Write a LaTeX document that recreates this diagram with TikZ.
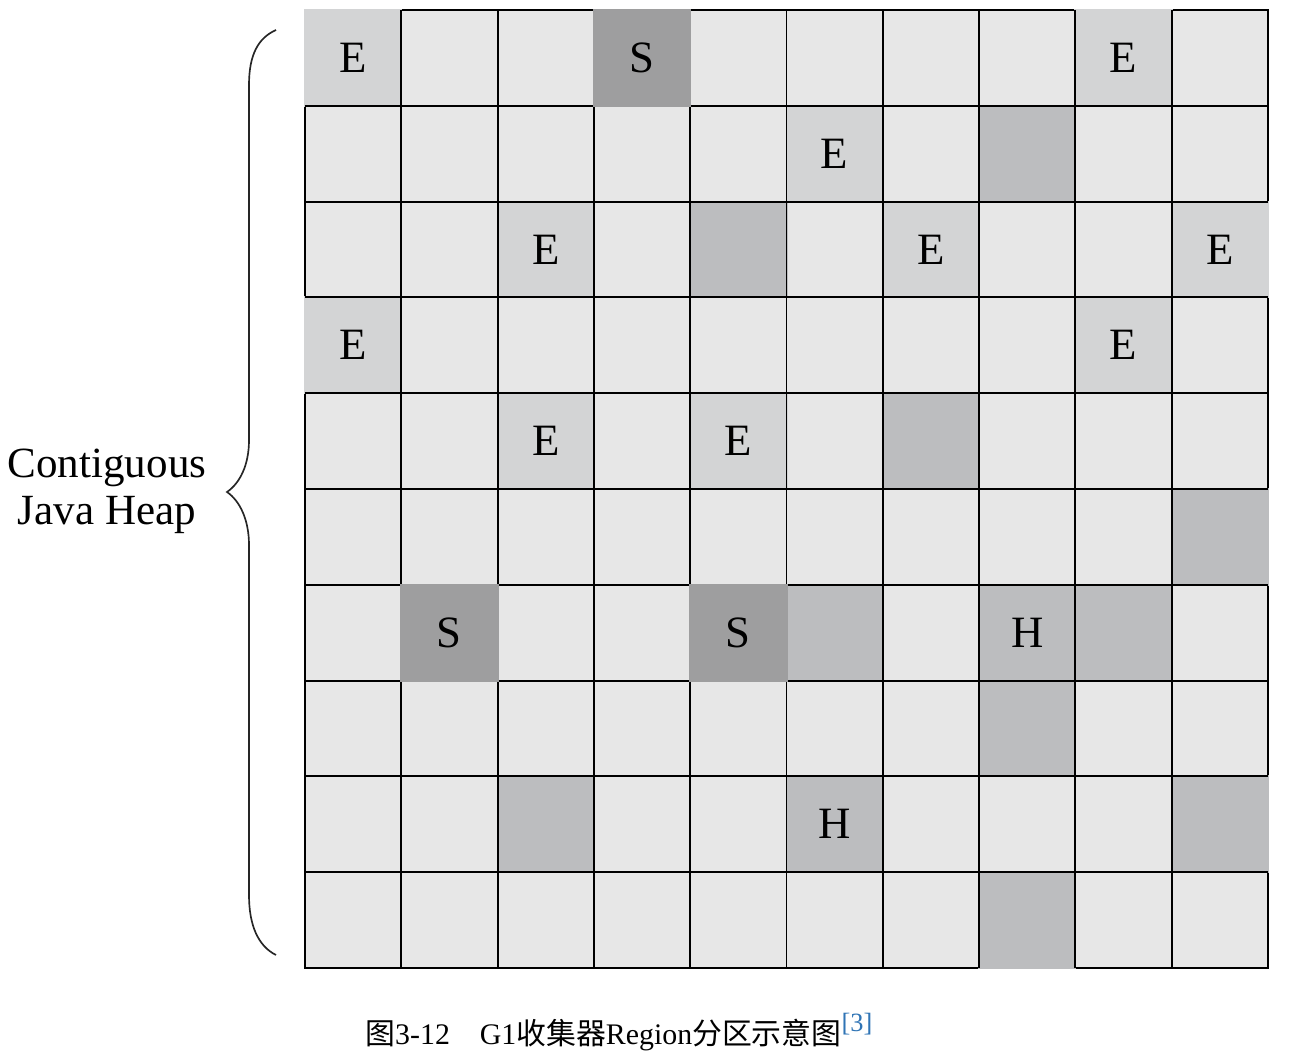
\documentclass[tikz,border=0pt]{standalone}
\usepackage{fontspec}
\setmainfont{Liberation Serif}
\newfontfamily\cjk{Noto Sans CJK SC}
\usetikzlibrary{positioning}

\definecolor{freegray}{HTML}{E7E7E7}
\definecolor{edengray}{HTML}{D3D4D5}
\definecolor{survgray}{HTML}{9E9E9F}
\definecolor{humgray}{HTML}{BCBDBF}
\definecolor{citeblue}{HTML}{2F74B5}

\begin{document}
\begin{tikzpicture}[x=0.02cm, y=-0.02cm, every node/.style={inner sep=0pt},
    region/.style={minimum width=1.966cm, minimum height=1.956cm, font=\fontsize{25.5}{25.5}\selectfont},
    gridline/.style={line width=1.1pt},
    heaplabel/.style={font=\fontsize{24.5}{24.5}\selectfont, anchor=base}]
  \useasboundingbox (0,0) rectangle (1294,1061);
  % heap frame
  \fill[freegray] (305,10) rectangle (1268,968);
  \draw[gridline] (305,10) rectangle (1268,968);
  % eden and humongous regions
  \foreach \r/\c/\col/\t in {0/0/edengray/E, 0/8/edengray/E, 1/5/edengray/E, 1/7/humgray/{},
      2/2/edengray/E, 2/4/humgray/{}, 2/6/edengray/E, 2/9/edengray/E, 3/0/edengray/E, 3/8/edengray/E,
      4/2/edengray/E, 4/4/edengray/E, 4/6/humgray/{}, 5/9/humgray/{}, 6/5/humgray/{}, 6/7/humgray/H,
      6/8/humgray/{}, 7/7/humgray/{}, 8/2/humgray/{}, 8/5/humgray/H, 8/9/humgray/{}, 9/7/humgray/{}}
    \node[region, fill=\col] (r\r-\c) at ({305+96.3*(\c+0.5)}, {10+95.8*(\r+0.5)}) {\t};
  \foreach \i in {1,...,9} {
    \draw[gridline] ({305+96.3*\i},10) -- ({305+96.3*\i},968);
    \draw[gridline] (305,{10+95.8*\i}) -- (1268,{10+95.8*\i});
  }
  % survivor regions
  \foreach \r/\c in {0/3, 6/1, 6/4}
    \node[region, fill=survgray] (r\r-\c) at ({305+96.3*(\c+0.5)}, {10+95.8*(\r+0.5)}) {S};
  % brace
  \draw[line width=0.95pt, black!85] (276,30) .. controls (258,38) and (249,55) .. (249,85) -- (249,440)
    .. controls (249,465) and (240,483) .. (227,492) .. controls (240,501) and (249,520) .. (249,545)
    -- (249,895) .. controls (249,925) and (258,946) .. (276,955);
  \node[heaplabel] (contig) at (107,477) {Contiguous};
  \node[heaplabel] (javaheap) at (107,524) {Java Heap};
  % caption
  \node[anchor=base west, font=\fontsize{17}{17}\selectfont] (caption) at (365,1044)
    {{\cjk 图}3-12\hspace{1em}G1{\cjk 收集器}Region{\cjk 分区示意图}\raisebox{7pt}{\color{citeblue}\fontsize{15}{15}\selectfont[3]}};
\end{tikzpicture}
\end{document}
